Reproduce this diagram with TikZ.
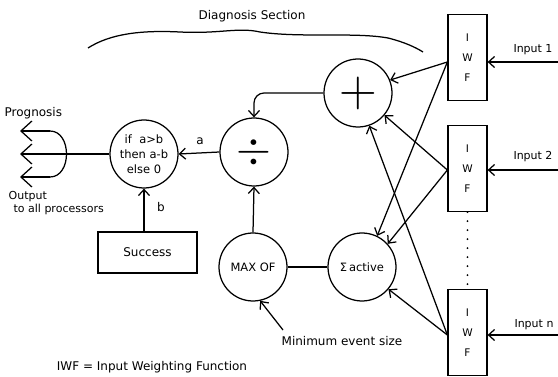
\documentclass[tikz,border=0pt]{standalone}
\usepackage{graphicx}
\usepackage{fontspec}
\setmainfont{DejaVu Sans}
\usetikzlibrary{arrows.meta}
\begin{document}
\begin{tikzpicture}[x=1pt,y=-1pt,
  line width=1.25pt,
  >={Straight Barb[length=6pt,width=11pt]},
  bigbarb/.style={-{Straight Barb[length=11pt,width=20pt]}},
  opcirc/.style={draw,circle,minimum size=68pt,inner sep=0pt,font=\fontsize{11.5}{15}\selectfont},
  iwfbox/.style={draw,rectangle,minimum width=39pt,minimum height=86pt,inner sep=0pt,align=center,font=\fontsize{10.5}{20}\selectfont},
  lbl/.style={font=\fontsize{12}{14}\selectfont,inner sep=0pt},
  smalllbl/.style={font=\fontsize{11}{12}\selectfont,inner sep=0pt}]
\useasboundingbox[fill=white] (0,0) rectangle (558,377);

% operator circles
\node[opcirc] (plus) at (358,93) {\scalebox{2.1}{\Huge$+$}};
\node[opcirc] (div) at (254,152) {\scalebox{1.8}{\Huge$\div$}};
\node[opcirc,align=center] (ifc) at (144,154) {if\ \ a>b\\then a-b\\else 0};
\node[opcirc] (maxof) at (253,267) {MAX OF};
\node[opcirc] (sig) at (362,267) {Σ\,active};
\node[draw,minimum width=99pt,minimum height=41pt,inner sep=0pt,font=\fontsize{12}{14}\selectfont] (succ) at (147.5,252.5) {Success};

% IWF boxes
\node[iwfbox] (iwf1) at (467.5,57.5) {I\\W\\F};
\node[iwfbox] (iwf2) at (467.5,168.5) {I\\W\\F};
\node[iwfbox] (iwfn) at (467.5,332.5) {I\\W\\F};
\draw[line width=2.2pt,line cap=round,dash pattern=on 0pt off 9pt] (iwf2.south) -- (iwfn.north);

% inputs
\coordinate (in1) at (558,62);
\coordinate (in2) at (558,170);
\coordinate (inn) at (558,335);
\draw[->] (in1) -- (in1 -| iwf1.east);
\draw[->] (in2) -- (in2 -| iwf2.east);
\draw[->] (inn) -- (inn -| iwfn.east);
\node[smalllbl] (lin1) at (533,50) {Input 1};
\node[smalllbl] (lin2) at (533,157) {Input 2};
\node[smalllbl] (linn) at (534,325) {Input n};

% IWF outputs
\coordinate (o1) at (iwf1.west |- in1);
\coordinate (o2) at (iwf2.west |- in2);
\coordinate (on) at (iwfn.west |- inn);
\draw[->] (o1) -- (plus.22);
\draw[->] (o1) -- (sig.64);
\draw[->] (o2) -- (plus.-40);
\draw[->] (o2) -- (sig.42);
\draw[->] (on) -- (plus.-71);
\draw[->] (on) -- (sig.-40);

% internal flow
\draw[->,rounded corners=10pt] (plus.west) -- (plus.west -| div.north) -- (div.north);
\draw[->] (div.west) -- (ifc.east);
\node[lbl] (la) at (200,141) {a};
\draw[->] (maxof.north) -- (div.south);
\draw (maxof.east) -- (sig.west);
\draw[->] (ifc.south |- succ.north) -- (ifc.south);
\node[lbl] (lb) at (161,207) {b};
\coordinate (mes) at (283,330);
\draw[->] (mes) -- (maxof.-78);
\node[lbl] (lmes) at (342,341) {Minimum event size};

% prognosis output
\coordinate (ptop) at (50,131);
\coordinate (pbot) at (50,177);
\coordinate (ptt) at (20,131);
\coordinate (pbt) at (20,177);
\coordinate (pmt) at (20,154);
\draw (ptop) .. controls (72,131) and (72,177) .. (pbot);
\draw[bigbarb] (ptop) -- (ptt);
\draw[bigbarb] (pbot) -- (pbt);
\draw[bigbarb] (ifc.west) -- (pmt);
\node[lbl,anchor=west] (lprog) at (4,113) {Prognosis};
\node[smalllbl,anchor=west] (lout) at (8,197) {Output};
\node[smalllbl,anchor=west] (lall) at (13,209) {to all processors};

% diagnosis section brace
\draw (88,48) .. controls (110,34) and (140,30) .. (180,32)
      .. controls (220,34) and (238,27) .. (260,32)
      .. controls (300,38) and (355,32) .. (388,38)
      .. controls (404,42) and (415,47) .. (423,52);
\node[lbl] (ldiag) at (252,16) {Diagnosis Section};

\node[lbl] (liwf) at (152,367) {IWF = Input Weighting Function};
\end{tikzpicture}
\end{document}
